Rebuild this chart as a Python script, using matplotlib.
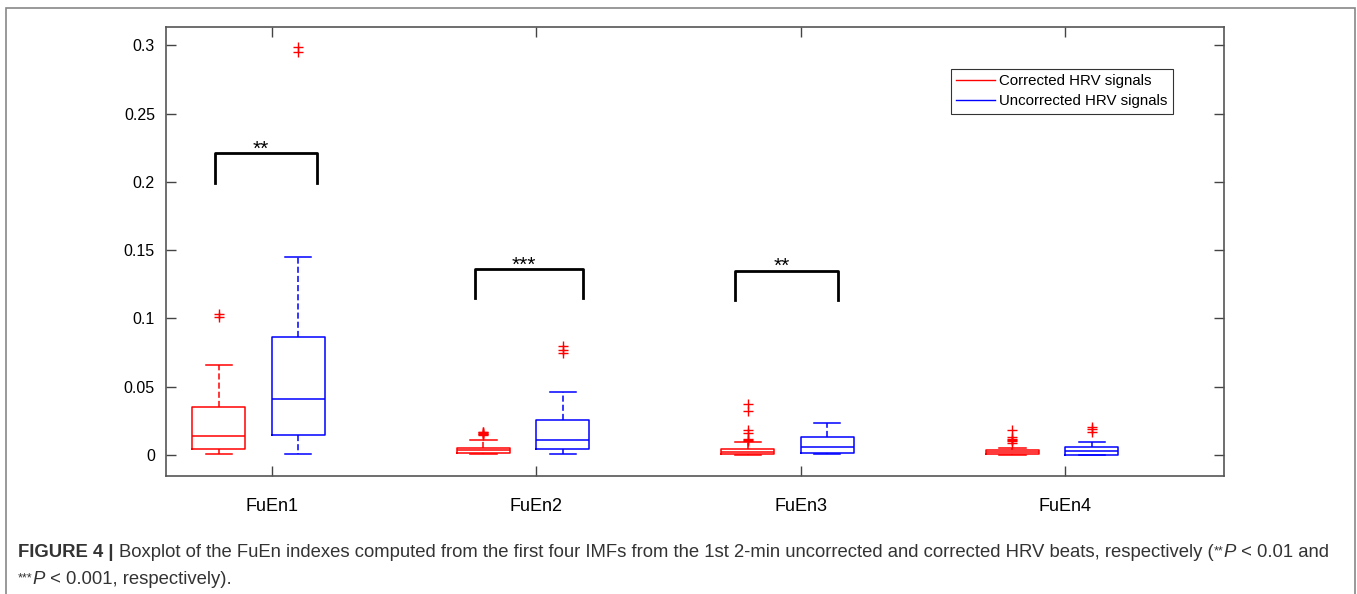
import numpy as np
import matplotlib
matplotlib.use('Agg')
import matplotlib.pyplot as plt
from matplotlib.patches import Rectangle

plt.rcParams['font.family'] = ['Liberation Sans', 'DejaVu Sans']

groups = ['FuEn1', 'FuEn2', 'FuEn3', 'FuEn4']
series = ['Corrected HRV signals', 'Uncorrected HRV signals']

# box statistics: lower whisker, Q1, median, Q3, upper whisker
corr_stats = [
    [0.0007, 0.0042, 0.0137, 0.0349, 0.0659],
    [0.0007, 0.0012, 0.0034, 0.0054, 0.0112],
    [0.0000, 0.0005, 0.0022, 0.0042, 0.0093],
    [0.0000, 0.0005, 0.0020, 0.0034, 0.0049],
]
uncorr_stats = [
    [0.0007, 0.0149, 0.0412, 0.0866, 0.1453],
    [0.0005, 0.0042, 0.0112, 0.0254, 0.0461],
    [0.0007, 0.0012, 0.0061, 0.0134, 0.0234],
    [0.0000, 0.0002, 0.0027, 0.0056, 0.0098],
]
corr_outliers = [
    [0.101, 0.103],
    [0.0145, 0.015, 0.0155, 0.016, 0.0165, 0.017],
    [0.0105, 0.011, 0.0115, 0.016, 0.018, 0.032, 0.037],
    [0.009, 0.010, 0.011, 0.012, 0.013, 0.018],
]
uncorr_outliers = [
    [0.295, 0.299],
    [0.0745, 0.077, 0.0795],
    [],
    [0.017, 0.019, 0.0205],
]

# significance brackets: (left x, right x, top y, bottom y, label)
brackets = [
    (0.786, 1.171, 0.221, 0.1995, '**'),
    (1.768, 2.175, 0.136, 0.1147, '***'),
    (2.752, 3.142, 0.135, 0.1135, '**'),
]

yticks = [0, 0.05, 0.1, 0.15, 0.2, 0.25, 0.3]
ytick_labels = ['0', '0.05', '0.1', '0.15', '0.2', '0.25', '0.3']


def make_stats(rows, outs):
    res = []
    for r, o in zip(rows, outs):
        res.append(dict(whislo=r[0], q1=r[1], med=r[2], q3=r[3], whishi=r[4], fliers=o))
    return res


fig = plt.figure(figsize=(13.57, 5.94), dpi=100)
ax = fig.add_axes([166 / 1357, 1 - 476 / 594, 1058 / 1357, 449 / 594])

pos = np.arange(1, len(groups) + 1)
for stats, col, offset in [(make_stats(corr_stats, corr_outliers), 'red', -0.2),
                           (make_stats(uncorr_stats, uncorr_outliers), 'blue', 0.1)]:
    ax.bxp(stats, positions=pos + offset, widths=0.2, capwidths=0.1, manage_ticks=False,
           boxprops=dict(color=col, lw=1.1),
           medianprops=dict(color=col, lw=1.1),
           whiskerprops=dict(color=col, lw=1.1, linestyle=(0, (4, 2))),
           capprops=dict(color=col, lw=1.1),
           flierprops=dict(marker='+', markeredgecolor='red', markersize=7, markeredgewidth=1.0))

for x0, x1, ytop, ybot, lab in brackets:
    ax.plot([x0, x0, x1, x1], [ybot, ytop, ytop, ybot], color='black', lw=2)
    ax.text((x0 + x1) / 2 - 0.02, ytop - 0.004, lab, ha='center', va='bottom', fontsize=15)

# legend handles
for lab, col in zip(series, ['red', 'blue']):
    ax.plot([], [], color=col, lw=1, label=lab)
leg = ax.legend(loc='upper right', bbox_to_anchor=(1173 / 1357, 1 - 69 / 594),
                bbox_transform=fig.transFigure, fontsize=10.8, frameon=True,
                fancybox=False, handlelength=2.6, handletextpad=0.3,
                borderpad=0.35, labelspacing=0.4, borderaxespad=0)
leg.get_frame().set_edgecolor('black')
leg.get_frame().set_linewidth(0.8)

ax.set_xlim(0.6, 4.6)
ax.set_ylim(-0.0154, 0.3134)
ax.set_xticks(pos)
ax.set_xticklabels(groups, fontsize=13)
ax.set_yticks(yticks)
ax.set_yticklabels(ytick_labels, fontsize=11.5)
ax.tick_params(direction='in', length=7, width=1, color='#444444',
               top=True, right=True, pad=8)
ax.tick_params(axis='x', pad=16)
for sp in ax.spines.values():
    sp.set_color('#555555')
    sp.set_linewidth(1.2)

# outer frame
fig.patches.append(Rectangle((6 / 1357, -0.01), 1349 / 1357, 1 - 8 / 594 + 0.01,
                             transform=fig.transFigure, fill=False,
                             edgecolor='#888888', lw=1.2))

# caption, placed piece by piece
renderer = fig.canvas.get_renderer()


def write_line(pieces, x_px, y_px):
    x = x_px / 1357
    for txt, kw in pieces:
        size = kw.pop('size', 13.3)
        rise = kw.pop('rise', 0)
        t = fig.text(x, 1 - (y_px - rise) / 594, txt, fontsize=size, color='#333333',
                     va='baseline', ha='left', **kw)
        bb = t.get_window_extent(renderer)
        x += bb.width / fig.bbox.width


write_line([('FIGURE 4 | ', dict(weight='bold')),
            ('Boxplot of the FuEn indexes computed from the first four IMFs from the 1st '
             '2-min uncorrected and corrected HRV beats, respectively (', {}),
            ('**', dict(size=9, rise=3)),
            ('P', dict(style='italic')),
            (' < 0.01 and', {})], 18, 557)
write_line([('***', dict(size=9, rise=3)),
            ('P', dict(style='italic')),
            (' < 0.001, respectively).', {})], 18, 584)

fig.savefig('out.png', dpi=100)
